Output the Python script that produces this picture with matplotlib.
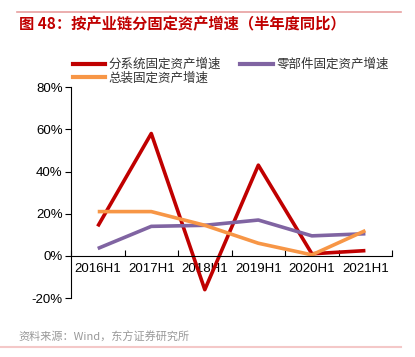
import matplotlib
matplotlib.use('Agg')
import matplotlib.pyplot as plt
from matplotlib.lines import Line2D
from matplotlib.ticker import FuncFormatter, FixedLocator
import numpy as np

plt.rcParams['font.family'] = ['Liberation Sans', 'Noto Sans CJK SC', 'DejaVu Sans']

periods = ['2016H1', '2017H1', '2018H1', '2019H1', '2020H1', '2021H1']
system_growth = [14, 58, -16, 43, 1, 2.5]
parts_growth = [3.5, 14, 14.5, 17, 9.5, 10.5]
assembly_growth = [21, 21, 14.5, 6, 0.5, 12]

names = ['分系统固定资产增速', '零部件固定资产增速', '总装固定资产增速']
colors = ['#C00000', '#8064A2', '#F79646']

fig = plt.figure(figsize=(4.15, 3.57), dpi=100)
ax = fig.add_axes([0.171, 0.165, 0.774, 0.591])

x = np.arange(len(periods)) + 0.5
for vals, c in zip([system_growth, parts_growth, assembly_growth], colors):
    ax.plot(x, vals, color=c, lw=2.6, solid_capstyle='butt')

ax.set_xlim(0, len(periods))
ax.set_ylim(-20, 80)
ax.set_yticks([-20, 0, 20, 40, 60, 80])
ax.yaxis.set_major_formatter(FuncFormatter(lambda v, p: '%d%%' % v))

ax.xaxis.set_major_locator(FixedLocator(np.arange(len(periods) + 1)))
ax.xaxis.set_minor_locator(FixedLocator(x))
ax.set_xticklabels([], minor=False)
ax.set_xticklabels(periods, minor=True)
ax.tick_params(axis='x', which='major', length=4, direction='in', width=0.8)
ax.tick_params(axis='x', which='minor', length=0, pad=5, labelsize=9.5)
ax.tick_params(axis='y', length=4, width=0.8, labelsize=9.5, pad=2)

for s in ['top', 'right']:
    ax.spines[s].set_visible(False)
ax.spines['bottom'].set_position(('data', 0))
ax.spines['left'].set_linewidth(0.8)
ax.spines['bottom'].set_linewidth(0.8)

# column-wise fill: red, orange in first column; purple in second
order = [0, 2, 1]
handles = [Line2D([], [], color=colors[i], lw=3) for i in order]
fig.legend(handles, [names[i] for i in order], loc='upper left', bbox_to_anchor=(0.16, 0.855),
           ncol=2, frameon=False, fontsize=9, handlelength=2.6, handletextpad=0.3,
           columnspacing=1.5, labelspacing=0.05, borderpad=0, labelcolor='#333333',
           prop={'family': ['Noto Sans CJK SC'], 'size': 9})

# title and frame lines
fig.add_artist(Line2D([0.041, 0.966], [0.966, 0.966], color='#E8A0A0', lw=1.2))
fig.text(0.045, 0.932, '图 48：按产业链分固定资产增速（半年度同比）', color='#C00000',
         fontsize=11, fontweight='bold', va='center', family=['Noto Sans CJK SC'])
fig.text(0.045, 0.056, '资料来源：Wind，东方证券研究所', color='#999999', fontsize=8, va='center',
         family=['Noto Sans CJK SC'])
fig.add_artist(Line2D([0.0, 0.966], [0.028, 0.028], color='#F4C8C8', lw=1.5))

fig.savefig('out.png', dpi=100)
